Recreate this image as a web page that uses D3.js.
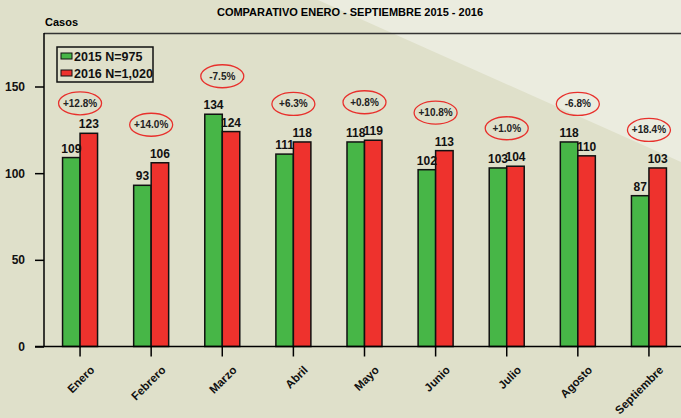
<!DOCTYPE html>
<html>
<head>
<meta charset="utf-8">
<script src="https://cdn.jsdelivr.net/npm/d3@7"></script>
<style>
  html, body { margin: 0; padding: 0; background: #dfe0ca; }
  svg { display: block; font-family: "Liberation Sans", Arial, sans-serif; }
</style>
</head>
<body>
<script>
/* chart data */
var months = ["Enero", "Febrero", "Marzo", "Abril", "Mayo", "Junio", "Julio", "Agosto", "Septiembre"];
var values2015 = [109, 93, 134, 111, 118, 102, 103, 118, 87];
var values2016 = [123, 106, 124, 118, 119, 113, 104, 110, 103];
var changes = ["+12.8%", "+14.0%", "-7.5%", "+6.3%", "+0.8%", "+10.8%", "+1.0%", "-6.8%", "+18.4%"];
var seriesNames = ["2015 N=975", "2016 N=1,020"];
var yTicks = [0, 50, 100, 150];

var width = 681, height = 418;
var colors = ["#47b647", "#ee322d"];

var svg = d3.select("body").append("svg")
    .attr("width", width)
    .attr("height", height);

// background + light diagonal
svg.append("rect").attr("width", width).attr("height", height).attr("fill", "#dfe0ca");
svg.append("path")
    .attr("d", "M318,0 L681,0 L681,162 Z")
    .attr("fill", "#ebecdf");

var x = d3.scaleBand().domain(months).range([44.5, 684.5]).padding(0);
var x1 = d3.scaleBand().domain([0, 1]).range([-17.5, 17.5]);
var y = d3.scaleLinear().domain([0, 180]).range([346.5, 34.5]);

// title
svg.append("text")
    .attr("x", 350).attr("y", 16)
    .attr("text-anchor", "middle")
    .style("font-size", "11px").style("font-weight", "bold")
    .text("COMPARATIVO ENERO - SEPTIEMBRE 2015 - 2016");

svg.append("text")
    .attr("x", 45).attr("y", 26)
    .style("font-size", "11px").style("font-weight", "bold")
    .text("Casos");

// top frame line
svg.append("line")
    .attr("x1", 44).attr("x2", width)
    .attr("y1", 33.5).attr("y2", 33.5)
    .attr("stroke", "#333").attr("stroke-width", 1.5);

// y axis
var yAxis = svg.append("g")
    .attr("transform", "translate(44,0)")
    .call(d3.axisLeft(y).tickValues(yTicks).tickSize(9).tickPadding(10));
yAxis.select(".domain").remove();
yAxis.append("line")
    .attr("x1", 0).attr("x2", 0)
    .attr("y1", 33).attr("y2", 347)
    .attr("stroke", "#000").attr("stroke-width", 1.5);
yAxis.selectAll(".tick line").attr("stroke", "#000").attr("stroke-width", 1.5);
yAxis.selectAll(".tick text")
    .style("font-size", "12px").style("font-weight", "bold")
    .attr("fill", "#111");

// bars
var groups = svg.selectAll(".month")
    .data(months)
    .enter()
    .append("g")
    .attr("class", "month")
    .attr("transform", function(d){ return "translate(" + (x(d) + x.bandwidth() / 2) + ",0)"; });

groups.each(function(m, i){
    var g = d3.select(this);
    var vals = [values2015[i], values2016[i]];
    g.selectAll("rect")
        .data(vals)
        .enter()
        .append("rect")
        .attr("x", function(v, j){ return x1(j); })
        .attr("y", function(v){ return y(v); })
        .attr("width", x1.bandwidth())
        .attr("height", function(v){ return y(0) - y(v); })
        .attr("fill", function(v, j){ return colors[j]; })
        .attr("stroke", "#111")
        .attr("stroke-width", 1.5);
    g.selectAll(".val")
        .data(vals)
        .enter()
        .append("text")
        .attr("class", "val")
        .attr("x", function(v, j){ return x1(j) + x1.bandwidth() / 2; })
        .attr("y", function(v){ return y(v) - 5; })
        .attr("text-anchor", "middle")
        .style("font-size", "12px").style("font-weight", "bold")
        .attr("fill", "#111")
        .text(function(v){ return v; });
    var cy = y(d3.max(vals)) - (i === 0 ? 30 : 38);
    g.append("ellipse")
        .attr("cx", 0).attr("cy", cy)
        .attr("rx", 21.5).attr("ry", 11.5)
        .attr("fill", "none")
        .attr("stroke", "#e8302c")
        .attr("stroke-width", 1.3);
    g.append("text")
        .attr("x", 0).attr("y", cy + 3.5)
        .attr("text-anchor", "middle")
        .style("font-size", "10px").style("font-weight", "bold")
        .attr("fill", "#222")
        .text(changes[i]);
});

// x axis
var xAxis = svg.append("g")
    .attr("transform", "translate(0," + y(0) + ")")
    .call(d3.axisBottom(x).tickSize(10).tickSizeOuter(0));
xAxis.select(".domain").remove();
xAxis.append("line")
    .attr("x1", 35).attr("x2", width)
    .attr("y1", 0).attr("y2", 0)
    .attr("stroke", "#000").attr("stroke-width", 1.5);
xAxis.selectAll(".tick line").attr("stroke", "#000").attr("stroke-width", 1.5);
xAxis.selectAll(".tick text")
    .attr("text-anchor", "end")
    .attr("dy", 0)
    .attr("transform", "translate(6,15) rotate(-45)")
    .style("font-size", "11.5px").style("font-weight", "bold")
    .attr("fill", "#111");

// legend
var legend = svg.append("g").attr("transform", "translate(57,47)");
legend.append("rect")
    .attr("width", 96).attr("height", 35)
    .attr("fill", "none").attr("stroke", "#111").attr("stroke-width", 1.5);
seriesNames.forEach(function(name, i){
    legend.append("rect")
        .attr("x", 4).attr("y", 6 + i * 17)
        .attr("width", 11).attr("height", 6)
        .attr("fill", colors[i]).attr("stroke", "#111").attr("stroke-width", 1);
    legend.append("text")
        .attr("x", 17).attr("y", 14 + i * 17)
        .style("font-size", "12.5px").style("font-weight", "bold")
        .attr("fill", "#111")
        .text(name);
});
</script>
</body>
</html>
